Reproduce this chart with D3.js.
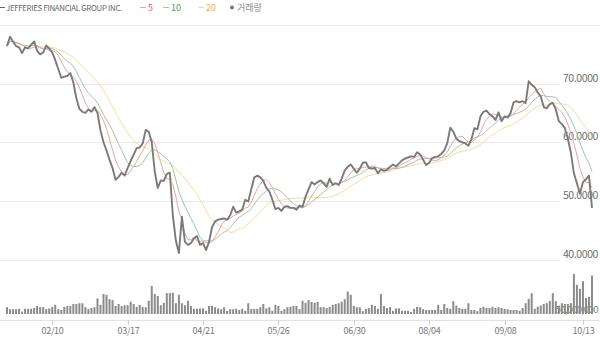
<!DOCTYPE html>
<html>
<head>
<meta charset="utf-8">
<script src="https://cdn.jsdelivr.net/npm/d3@7"></script>
<style>
  html, body { margin: 0; padding: 0; background: #fff; }
  svg { display: block; font-family: 'Noto Sans CJK KR', 'Noto Sans', sans-serif; }
</style>
</head>
<body>
<div id="chart"></div>
<script>
// daily close (USD)
const closes = [
  76.4, 78.0, 77.2, 76.4, 76.2, 75.2, 76.2, 76.0, 76.6, 77.2,
  75.6, 75.0, 75.3, 76.5, 76.0, 75.3, 74.0, 72.5, 71.0, 71.2,
  71.3, 71.8, 70.2, 67.5, 65.7, 65.2, 65.0, 65.6, 65.2, 66.0,
  65.0, 62.0, 60.0, 58.6, 57.0, 55.6, 53.6, 54.1, 54.8, 54.3,
  55.6, 56.8, 57.9, 59.0, 59.1, 59.8, 62.1, 61.8, 60.0, 55.0,
  52.2, 53.5, 53.4, 54.6, 54.8, 47.5, 43.2, 41.1, 47.3, 43.0,
  42.5, 42.8, 43.6, 44.0, 42.5, 42.8, 41.6, 43.0, 45.5, 46.5,
  46.8, 46.9, 47.0, 46.8, 47.5, 49.0, 48.0, 48.2, 48.5, 50.2,
  49.9, 52.0, 54.0, 54.3, 54.0, 53.4, 52.2, 51.6, 50.2, 48.6,
  48.8, 48.3, 49.0, 49.1, 48.8, 48.8, 48.5, 49.2, 49.0, 50.7,
  52.0, 53.2, 52.8, 53.2, 53.5, 53.0, 52.4, 53.8, 52.7, 53.0,
  52.7, 53.8, 55.2, 55.8, 56.2, 55.5, 54.8, 55.5, 56.5, 56.6,
  55.6, 55.5, 55.6, 54.7, 55.4, 55.1, 55.3, 55.8, 56.2, 55.9,
  56.4, 56.9, 57.2, 57.4, 57.6, 57.5, 58.3, 57.9, 57.0, 56.1,
  56.5, 57.3, 57.5, 57.6, 58.0, 58.6, 59.8, 62.5, 61.8, 60.6,
  60.2, 60.0, 59.8, 59.4, 60.5, 62.4, 62.2, 64.4, 65.2, 65.4,
  64.8, 64.4, 63.8, 65.1, 63.6, 64.4, 64.2, 65.0, 66.8, 67.0,
  66.8, 67.0, 66.7, 70.4, 69.8, 69.4, 68.5, 67.8, 66.0, 65.8,
  66.5, 66.7, 65.6, 63.6, 63.1, 62.4, 60.6, 58.2, 54.7, 53.0,
  51.2, 53.2, 53.7, 54.3, 48.8
];

// daily volume (millions of shares)
const volumes = [
  1.7, 1.2, 1.2, 1.2, 1.3, 0.6, 1.3, 1.3, 1.3, 1.5,
  2.0, 1.7, 1.7, 1.2, 1.4, 1.8, 2.3, 1.2, 1.0, 1.8,
  2.0, 2.0, 2.5, 2.5, 2.7, 2.7, 1.7, 1.3, 1.5, 1.7,
  3.9, 2.3, 5.0, 4.8, 3.7, 3.5, 2.0, 2.5, 2.0, 2.2,
  2.2, 3.1, 2.5, 1.8, 2.3, 1.7, 1.7, 3.3, 7.0, 5.0,
  4.5, 2.2, 2.8, 5.2, 5.2, 5.3, 2.7, 4.8, 2.7, 2.2,
  3.3, 2.0, 1.3, 1.3,
  1.4, 1.4, 0.8, 2.0, 2.0, 1.7, 1.4, 1.2, 1.7, 0.8,
  1.2, 1.2, 1.3, 1.0, 1.3, 0.8, 2.7, 1.3, 1.3, 1.3,
  1.7, 2.5, 1.4, 1.7, 0.8, 2.3, 2.0, 0.8, 1.2, 1.7,
  1.8, 2.0, 2.0, 1.2, 3.3, 2.8, 3.5, 3.0, 2.8, 3.0,
  1.7, 1.7, 1.5, 1.8, 2.3, 2.5, 2.7, 3.1, 3.7, 5.6,
  4.8, 2.0, 1.7, 1.7, 0.7, 1.3, 1.5, 2.3, 2.0, 1.3,
  5.0, 2.0, 1.5, 1.7, 0.8, 1.4, 1.4,
  0.8, 0.8, 0.8, 0.5, 1.3, 1.8, 1.7, 1.2, 1.0, 1.0,
  1.0, 1.0, 2.3, 1.0, 2.5, 1.5, 1.3, 3.2, 2.1, 1.5,
  1.3, 1.3, 2.7, 1.0, 1.0, 0.7, 1.5, 1.8, 1.5, 1.5,
  1.8, 1.5, 1.7, 1.5, 1.3, 1.2, 1.0, 1.0, 1.0, 0.8,
  1.5, 2.7, 3.8, 5.2, 1.3, 1.8, 2.1, 2.5, 2.7, 3.3,
  5.2, 3.2, 2.1, 2.7, 2.5, 2.5, 2.7, 10.0, 7.3, 6.3,
  8.2, 4.0, 4.3, 9.6
];

const tickIndex = [15, 40, 65, 90, 115, 140, 165, 191];
const tickLabels = ['02/10', '03/17', '04/21', '05/26', '06/30', '08/04', '09/08', '10/13'];
const priceTicks = [80, 70, 60, 50, 40];
const maPeriods = [5, 10, 20];
const seriesName = 'JEFFERIES FINANCIAL GROUP INC.';
const volumeName = '거래량';
const volumeLabel = '50,000,000';

const width = 600;
const height = 339;
const maColors = { 5: '#eba3a3', 10: '#9ccaa5', 20: '#f4dca2' };
const legendColors = { 5: '#e8525a', 10: '#4f9d5d', 20: '#f3b33f' };

function movingAverage(values, n) {
  return values.map((v, i) => {
    const s = values.slice(Math.max(0, i - n + 1), i + 1);
    return d3.mean(s);
  });
}

const svg = d3.select('#chart').append('svg')
  .attr('width', width)
  .attr('height', height);

const x = d3.scaleLinear().domain([0, closes.length - 1]).range([7, 592]);
const y = d3.scaleLinear().domain([40, 80]).range([259.5, 25]);
const yVol = d3.scaleLinear().domain([0, 10.5]).range([314, 272]);

// gridlines
svg.append('g').selectAll('line')
  .data(priceTicks)
  .join('line')
  .attr('x1', 0)
  .attr('x2', d => d === 80 ? 600 : 560)
  .attr('y1', d => Math.round(y(d)) + 0.5)
  .attr('y2', d => Math.round(y(d)) + 0.5)
  .attr('stroke', '#e9e9e9')
  .attr('stroke-width', 1);

svg.append('g').selectAll('text')
  .data(priceTicks.filter(d => d < 80))
  .join('text')
  .attr('x', 598)
  .attr('y', d => y(d) - 2)
  .attr('text-anchor', 'end')
  .attr('font-size', 10.5)
  .attr('fill', '#6f6f6f')
  .attr('letter-spacing', -0.4)
  .text(d => d3.format('.4f')(d));

// volume label, sits behind the bars
svg.append('text')
  .attr('x', 598)
  .attr('y', 313)
  .attr('text-anchor', 'end')
  .attr('font-size', 9.5)
  .attr('fill', '#777')
  .attr('letter-spacing', -0.5)
  .text(volumeLabel);

// volume bars
svg.append('g').selectAll('rect')
  .data(volumes)
  .join('rect')
  .attr('x', (d, i) => x(i) - 1)
  .attr('y', d => yVol(d))
  .attr('width', 2)
  .attr('height', d => yVol(0) - yVol(d))
  .attr('fill', '#8c8c8c');

// x axis
svg.append('line')
  .attr('x1', 0).attr('x2', 600)
  .attr('y1', 320.5).attr('y2', 320.5)
  .attr('stroke', '#e2e2e2');

const ticks = svg.append('g').selectAll('g')
  .data(tickIndex)
  .join('g')
  .attr('transform', d => `translate(${Math.round(x(d)) + 0.5},0)`);

ticks.append('line')
  .attr('y1', 320).attr('y2', 325)
  .attr('stroke', '#cfcfcf');

ticks.append('text')
  .attr('y', 334)
  .attr('text-anchor', 'middle')
  .attr('font-size', 9)
  .attr('fill', '#777')
  .attr('letter-spacing', -0.3)
  .text((d, i) => tickLabels[i]);

// moving averages, longest first
const line = d3.line()
  .x((d, i) => x(i))
  .y(d => y(d));

maPeriods.slice().reverse().forEach(n => {
  svg.append('path')
    .datum(movingAverage(closes, n))
    .attr('d', line)
    .attr('fill', 'none')
    .attr('stroke', maColors[n])
    .attr('stroke-width', 1);
});

svg.append('path')
  .datum(closes)
  .attr('d', line)
  .attr('fill', 'none')
  .attr('stroke', '#7a7a7a')
  .attr('stroke-width', 1.9)
  .attr('stroke-linejoin', 'round');

// legend
const legend = svg.append('g').attr('font-size', 9);

legend.append('line')
  .attr('x1', 0).attr('x2', 5).attr('y1', 7.5).attr('y2', 7.5)
  .attr('stroke', '#666');
legend.append('text')
  .attr('x', 6).attr('y', 10.5)
  .attr('fill', '#666')
  .attr('font-size', 8)
  .attr('letter-spacing', -0.3)
  .attr('textLength', 116)
  .attr('lengthAdjust', 'spacingAndGlyphs')
  .text(seriesName);

const maX = { 5: 140, 10: 163, 20: 198 };
maPeriods.forEach(n => {
  legend.append('line')
    .attr('x1', maX[n]).attr('x2', maX[n] + 6)
    .attr('y1', 7.5).attr('y2', 7.5)
    .attr('stroke', maColors[n]);
  legend.append('text')
    .attr('x', maX[n] + 8).attr('y', 10.5)
    .attr('fill', legendColors[n])
    .text(n);
});

legend.append('circle')
  .attr('cx', 232).attr('cy', 7.5).attr('r', 2)
  .attr('fill', '#777');
legend.append('text')
  .attr('x', 237).attr('y', 10.5)
  .attr('fill', '#888')
  .text(volumeName);
</script>
</body>
</html>
